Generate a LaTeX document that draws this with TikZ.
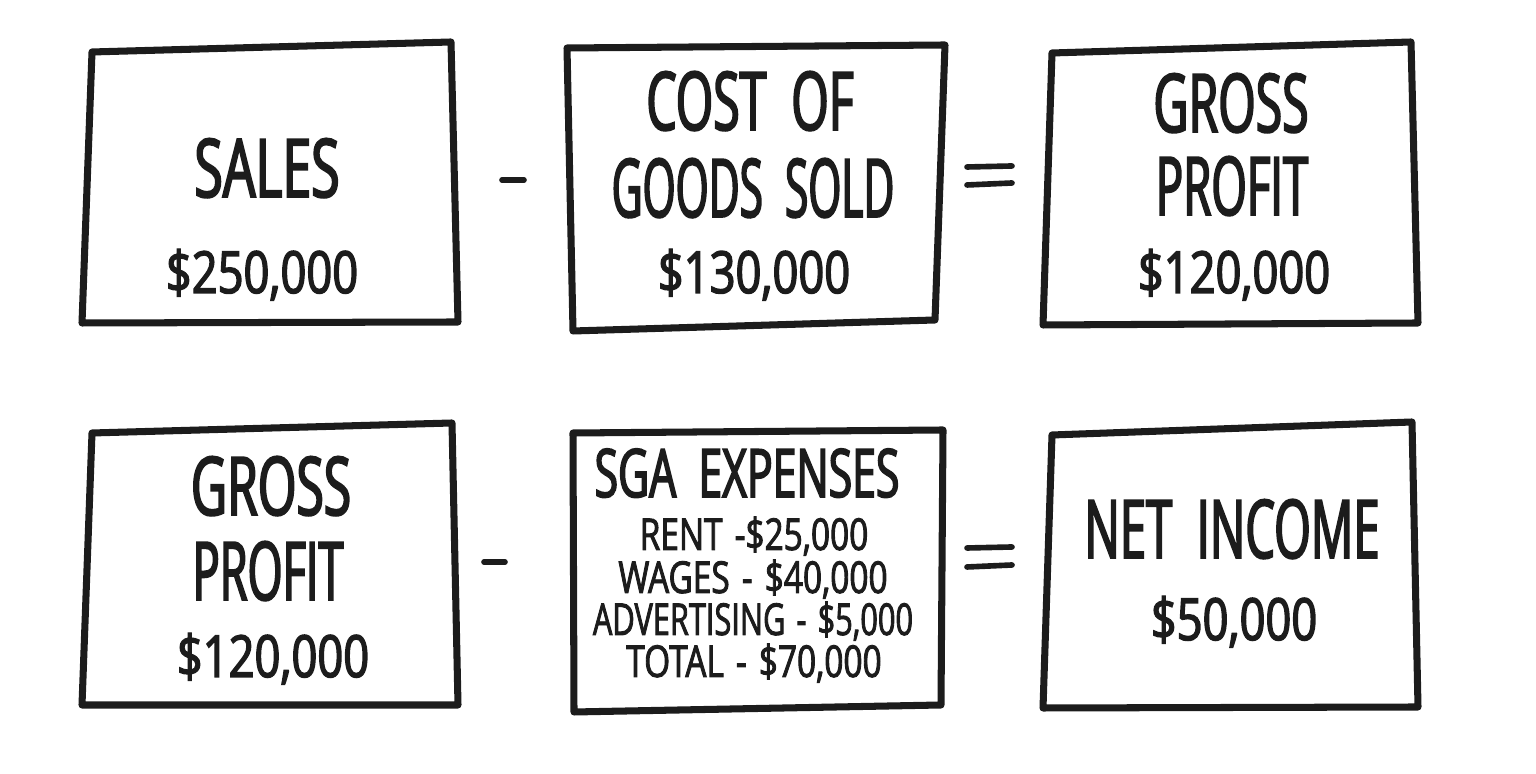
\documentclass[tikz,border=0pt]{standalone}
\usepackage{graphicx}
\usepackage{fontspec}
\newfontfamily\hand[FakeStretch=0.64,FakeBold=2.4,WordSpace=2]{Open Sans}
\newfontfamily\handnum[FakeStretch=0.78,FakeBold=2.4]{Open Sans}
\newfontfamily\handitem[FakeStretch=0.76,FakeBold=2,WordSpace=1.4]{Open Sans}
\newcommand\hsq[2]{\scalebox{#1}[1]{#2}}
\definecolor{ink}{HTML}{1C1C1C}
\tikzset{
  box/.style={draw=ink,line width=2pt,line join=round},
  oper/.style={draw=ink,line width=1.6pt,line cap=round},
  title/.style={anchor=base,inner sep=0pt,text=ink,font=\hand\fontsize{23}{26}\selectfont},
  amount/.style={anchor=base,inner sep=0pt,text=ink,font=\handnum\fontsize{16.5}{19}\selectfont},
  subtitle/.style={anchor=base,inner sep=0pt,text=ink,font=\hand\fontsize{19}{22}\selectfont},
  item/.style={anchor=base,inner sep=0pt,text=ink,font=\handitem\fontsize{12.5}{14}\selectfont},
}
\begin{document}
\begin{tikzpicture}[x=0.01cm,y=-0.01cm]
\useasboundingbox (0,0) rectangle (1536,774);
% boxes
\draw[box] (92,52) -- (451,42) -- (458,322) -- (82,323) -- cycle;
\draw[box] (567,48) -- (945,45) -- (935,320) -- (573,331) -- cycle;
\draw[box] (1052,53) -- (1411,42) -- (1418,323) -- (1043,325) -- cycle;
\draw[box] (92,433) -- (452,423) -- (458,705) -- (82,705) -- cycle;
\draw[box] (573,433) -- (943,430) -- (941,705) -- (574,712) -- cycle;
\draw[box] (1052,435) -- (1412,422) -- (1418,707) -- (1043,708) -- cycle;
% operators
\coordinate (m1a) at (502,180); \coordinate (m1b) at (524,180);
\draw[oper] (m1a) -- (m1b);
\coordinate (e1a) at (967,167); \coordinate (e1b) at (1012,166);
\coordinate (e1c) at (967,185); \coordinate (e1d) at (1012,183);
\draw[oper] (e1a) -- (e1b); \draw[oper] (e1c) -- (e1d);
\coordinate (m2a) at (484,562); \coordinate (m2b) at (505,562);
\draw[oper] (m2a) -- (m2b);
\coordinate (e2a) at (967,548); \coordinate (e2b) at (1012,547);
\coordinate (e2c) at (967,567); \coordinate (e2d) at (1012,565);
\draw[oper] (e2a) -- (e2b); \draw[oper] (e2c) -- (e2d);
% texts row 1
\node[title] (sales) at (267,197) {SALES};
\node[amount] (salesv) at (262,293) {\$250,000};
\node[title] (cogs1) at (750,130) {\hsq{0.93}{COST OF}};
\node[title] (cogs2) at (753,217) {\hsq{0.82}{GOODS SOLD}};
\node[amount] (cogsv) at (754,293) {\$130,000};
\node[title] (gp1) at (1231,132) {\hsq{0.93}{GROSS}};
\node[title] (gp2) at (1232,215) {\hsq{0.88}{PROFIT}};
\node[amount] (gpv) at (1234,293) {\$120,000};
% texts row 2
\node[title] (gq1) at (271,515) {\hsq{0.96}{GROSS}};
\node[title] (gq2) at (268,600) {\hsq{0.87}{PROFIT}};
\node[amount] (gqv) at (273,677) {\$120,000};
\node[subtitle] (sga) at (747,497) {SGA EXPENSES};
\node[item] (rent) at (754,550) {RENT -\$25,000};
\node[item] (wages) at (753,593) {WAGES - \$40,000};
\node[item] (adv) at (753,635) {\hsq{0.92}{ADVERTISING - \$5,000}};
\node[item] (total) at (754,677) {TOTAL - \$70,000};
\node[title] (ni) at (1232,558) {\hsq{0.91}{NET INCOME}};
\node[amount] (niv) at (1234,640) {\$50,000};
\end{tikzpicture}
\end{document}
